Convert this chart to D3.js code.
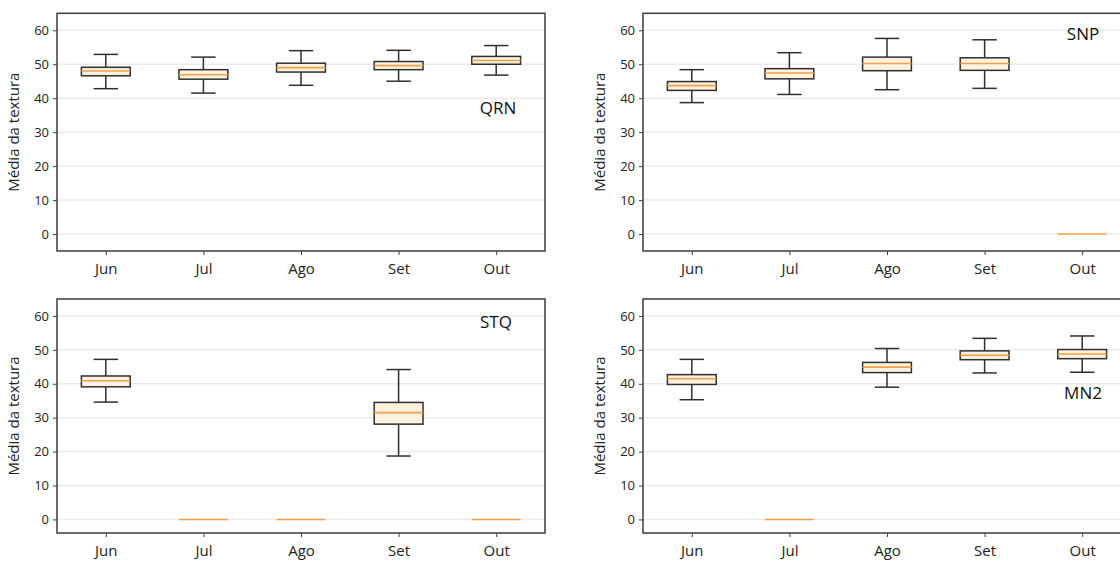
<!DOCTYPE html>
<html>
<head>
<meta charset="utf-8">
<script src="https://cdn.jsdelivr.net/npm/d3@7"></script>
<style>
  html, body { margin: 0; padding: 0; background: #fff; }
  svg { display: block; font-family: "Open Sans", "Noto Sans", sans-serif; }
</style>
</head>
<body>
<svg id="chart" width="1120" height="561"></svg>
<script>
// Months on the x axis and the y tick values
const months = ["Jun", "Jul", "Ago", "Set", "Out"];
const yTicks = [0, 10, 20, 30, 40, 50, 60];

// Five-number summaries per month: [lower whisker, Q1, median, Q3, upper whisker]
const qrnStats = [
  [42.8, 46.6, 48.0, 49.1, 52.9],
  [41.5, 45.6, 46.9, 48.4, 52.1],
  [43.8, 47.7, 49.0, 50.3, 54.0],
  [45.0, 48.4, 49.6, 50.8, 54.1],
  [46.8, 50.0, 51.1, 52.3, 55.5]
];
const snpStats = [
  [38.7, 42.3, 43.7, 44.9, 48.4],
  [41.1, 45.7, 47.4, 48.7, 53.4],
  [42.5, 48.1, 50.2, 52.1, 57.6],
  [42.9, 48.2, 50.2, 51.9, 57.2],
  [0, 0, 0, 0, 0]
];
const stqStats = [
  [34.6, 39.1, 40.9, 42.3, 47.2],
  [0, 0, 0, 0, 0],
  [0, 0, 0, 0, 0],
  [18.7, 28.1, 31.5, 34.5, 44.2],
  [0, 0, 0, 0, 0]
];
const mn2Stats = [
  [35.3, 39.8, 41.5, 42.7, 47.2],
  [0, 0, 0, 0, 0],
  [39.0, 43.3, 44.9, 46.3, 50.4],
  [43.2, 47.1, 48.4, 49.7, 53.4],
  [43.4, 47.4, 48.8, 50.1, 54.1]
];

const panels = [
  { name: "QRN", stats: qrnStats, x0: 57,  x1: 545,  y0: 251, y1: 13.3, yMin: -5, label: [498, 114] },
  { name: "SNP", stats: snpStats, x0: 643, x1: 1131, y0: 251, y1: 13.3, yMin: -5, label: [1083, 40] },
  { name: "STQ", stats: stqStats, x0: 57,  x1: 545,  y0: 533, y1: 299, yMin: -4, label: [496, 328] },
  { name: "MN2", stats: mn2Stats, x0: 643, x1: 1131, y0: 533, y1: 299, yMin: -4, label: [1083, 399] }
];

const svg = d3.select("#chart");
const boxStroke = "#2f2f2f";
const medianColor = "#f4a04a";

panels.forEach(p => {
  const g = svg.append("g");
  const x = d3.scaleLinear().domain([0.5, months.length + 0.5]).range([p.x0, p.x1]);
  const y = d3.scaleLinear().domain([p.yMin, 65]).range([p.y0, p.y1]);
  const step = x(2) - x(1);
  const boxW = step * 0.5;
  const capW = step * 0.25;

  // horizontal grid
  g.append("g").selectAll("line").data(yTicks).join("line")
    .attr("x1", p.x0).attr("x2", p.x1)
    .attr("y1", d => y(d)).attr("y2", d => y(d))
    .attr("stroke", "#ebebeb").attr("stroke-width", 1.5);

  // axes
  const yAxis = g.append("g").attr("transform", `translate(${p.x0},0)`)
    .call(d3.axisLeft(y).tickValues(yTicks).tickSize(4).tickPadding(4));
  const xAxis = g.append("g").attr("transform", `translate(0,${p.y0})`)
    .call(d3.axisBottom(x).tickValues(d3.range(1, months.length + 1))
      .tickFormat(i => months[i - 1]).tickSize(4).tickPadding(8));
  [yAxis, xAxis].forEach(a => {
    a.select(".domain").remove();
    a.selectAll(".tick line").attr("stroke", "#444").attr("stroke-width", 1);
    a.selectAll(".tick text").attr("fill", "#222").attr("font-family", "Open Sans, sans-serif");
  });
  yAxis.selectAll(".tick text").attr("font-size", 13);
  xAxis.selectAll(".tick text").attr("font-size", 15);

  // boxes; collapsed (all-zero) months show only the median line
  const boxes = g.append("g").selectAll("g").data(p.stats).join("g")
    .attr("transform", (d, i) => `translate(${x(i + 1)},0)`);
  const spread = boxes.filter(d => d[4] > d[0]);
  spread.append("line").attr("x1", 0).attr("x2", 0)
    .attr("y1", d => y(d[3])).attr("y2", d => y(d[4]))
    .attr("stroke", boxStroke).attr("stroke-width", 1.5);
  spread.append("line").attr("x1", 0).attr("x2", 0)
    .attr("y1", d => y(d[0])).attr("y2", d => y(d[1]))
    .attr("stroke", boxStroke).attr("stroke-width", 1.5);
  [0, 4].forEach(k => {
    spread.append("line").attr("x1", -capW / 2).attr("x2", capW / 2)
      .attr("y1", d => y(d[k])).attr("y2", d => y(d[k]))
      .attr("stroke", boxStroke).attr("stroke-width", 1.5);
  });
  spread.append("rect")
    .attr("x", -boxW / 2).attr("width", boxW)
    .attr("y", d => y(d[3])).attr("height", d => y(d[1]) - y(d[3]))
    .attr("fill", "#fdf2df").attr("stroke", boxStroke).attr("stroke-width", 1.5);
  boxes.append("line").attr("x1", -boxW / 2).attr("x2", boxW / 2)
    .attr("y1", d => y(d[2])).attr("y2", d => y(d[2]))
    .attr("stroke", medianColor).attr("stroke-width", 1.6);

  // frame
  g.append("rect")
    .attr("x", p.x0).attr("y", p.y1)
    .attr("width", p.x1 - p.x0).attr("height", p.y0 - p.y1)
    .attr("fill", "none").attr("stroke", "#3c3c3c").attr("stroke-width", 1.5);

  // y axis title
  g.append("text")
    .attr("transform", `translate(${p.x0 - 38},${(p.y0 + p.y1) / 2}) rotate(-90)`)
    .attr("text-anchor", "middle")
    .attr("font-size", 15).attr("fill", "#222")
    .text("Média da textura");

  // site label
  g.append("text")
    .attr("x", p.label[0]).attr("y", p.label[1])
    .attr("text-anchor", "middle")
    .attr("font-size", 17).attr("fill", "#111")
    .text(p.name);
});
</script>
</body>
</html>
